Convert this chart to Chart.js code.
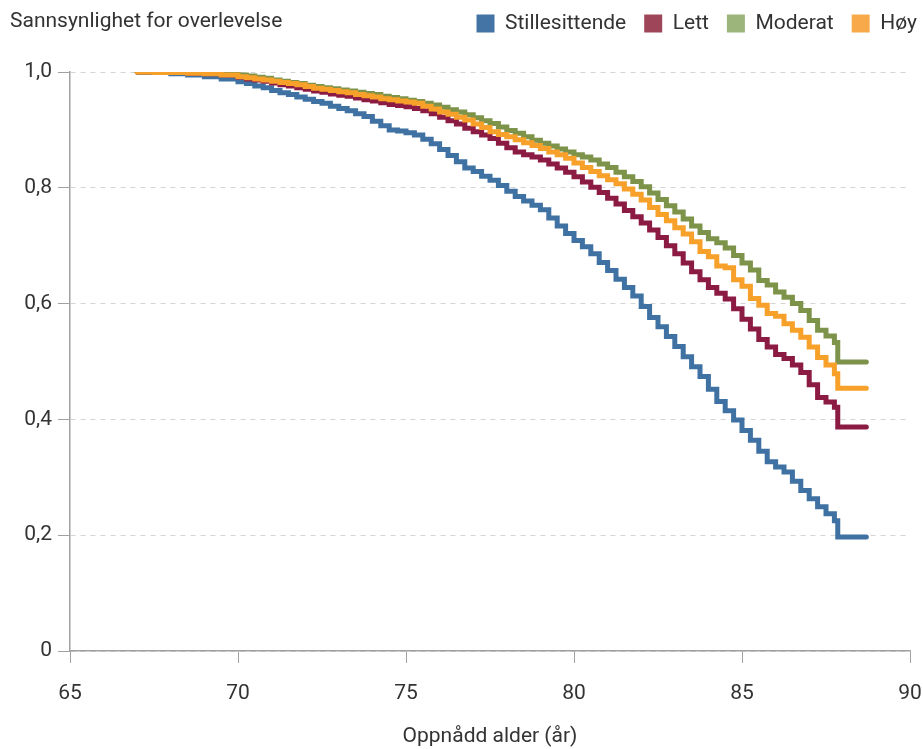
<!DOCTYPE html>
<html>
<head>
<meta charset="utf-8">
<script src="https://cdn.jsdelivr.net/npm/chart.js@4"></script>
<style>
html, body { margin: 0; padding: 0; background: #fff; }
</style>
</head>
<body>
<canvas id="chart" width="923" height="749"></canvas>
<script>
// alder (år) der kurvene endrer verdi
var ages = [67, 67.5, 68, 68.5, 69, 69.5,
  70, 70.25, 70.5, 70.75, 71, 71.25, 71.5, 71.75, 72, 72.25, 72.5, 72.75,
  73, 73.25, 73.5, 73.75, 74, 74.25, 74.5, 74.75, 75, 75.25, 75.5, 75.75,
  76, 76.25, 76.5, 76.75, 77, 77.25, 77.5, 77.75, 78, 78.25, 78.5, 78.75,
  79, 79.25, 79.5, 79.75, 80, 80.25, 80.5, 80.75, 81, 81.25, 81.5, 81.75,
  82, 82.25, 82.5, 82.75, 83, 83.25, 83.5, 83.75, 84, 84.25, 84.5, 84.75,
  85, 85.25, 85.5, 85.75, 86, 86.25, 86.5, 86.75, 87, 87.25, 87.5, 87.75,
  87.85, 88.7];

var stillesittende = [1.0, 0.999, 0.997, 0.995, 0.992, 0.988,
  0.983, 0.980, 0.976, 0.973, 0.968, 0.964, 0.961, 0.957, 0.953, 0.949, 0.946, 0.941,
  0.937, 0.933, 0.928, 0.923, 0.915, 0.907, 0.900, 0.898, 0.895, 0.891, 0.884, 0.876,
  0.866, 0.856, 0.845, 0.834, 0.828, 0.820, 0.813, 0.804, 0.794, 0.785, 0.777, 0.770,
  0.762, 0.748, 0.734, 0.721, 0.709, 0.698, 0.686, 0.671, 0.657, 0.642, 0.628, 0.613,
  0.595, 0.576, 0.560, 0.543, 0.526, 0.508, 0.491, 0.474, 0.452, 0.431, 0.415, 0.399,
  0.381, 0.364, 0.345, 0.327, 0.318, 0.309, 0.293, 0.277, 0.263, 0.249, 0.237, 0.225,
  0.197, 0.197];
var lett = [1.0, 0.999, 0.999, 0.998, 0.997, 0.995,
  0.991, 0.988, 0.986, 0.984, 0.981, 0.978, 0.976, 0.973, 0.970, 0.967, 0.965, 0.962,
  0.960, 0.958, 0.955, 0.952, 0.950, 0.947, 0.944, 0.942, 0.940, 0.937, 0.933, 0.928,
  0.922, 0.916, 0.910, 0.903, 0.897, 0.891, 0.885, 0.877, 0.869, 0.862, 0.857, 0.853,
  0.848, 0.841, 0.834, 0.827, 0.819, 0.810, 0.801, 0.792, 0.782, 0.772, 0.761, 0.750,
  0.739, 0.727, 0.714, 0.700, 0.686, 0.670, 0.655, 0.641, 0.628, 0.618, 0.608, 0.591,
  0.573, 0.556, 0.538, 0.525, 0.512, 0.505, 0.494, 0.481, 0.460, 0.438, 0.430, 0.421,
  0.387, 0.387];
var moderat = [1.0, 1.0, 0.999, 0.999, 0.998, 0.997,
  0.995, 0.993, 0.991, 0.989, 0.986, 0.984, 0.982, 0.980, 0.977, 0.975, 0.973, 0.971,
  0.969, 0.967, 0.965, 0.963, 0.961, 0.958, 0.956, 0.954, 0.951, 0.949, 0.946, 0.943,
  0.939, 0.935, 0.931, 0.926, 0.921, 0.916, 0.911, 0.905, 0.899, 0.894, 0.888, 0.882,
  0.877, 0.872, 0.867, 0.862, 0.857, 0.853, 0.848, 0.841, 0.835, 0.827, 0.819, 0.811,
  0.802, 0.791, 0.780, 0.769, 0.758, 0.746, 0.734, 0.723, 0.712, 0.705, 0.696, 0.683,
  0.670, 0.658, 0.640, 0.632, 0.620, 0.611, 0.600, 0.588, 0.571, 0.554, 0.544, 0.533,
  0.499, 0.499];
var hoy = [1.0, 0.999, 0.999, 0.998, 0.997, 0.995,
  0.992, 0.990, 0.988, 0.986, 0.984, 0.982, 0.980, 0.978, 0.975, 0.972, 0.970, 0.968,
  0.966, 0.964, 0.961, 0.959, 0.957, 0.954, 0.952, 0.950, 0.948, 0.946, 0.941, 0.936,
  0.931, 0.927, 0.922, 0.917, 0.910, 0.904, 0.897, 0.892, 0.888, 0.883, 0.878, 0.873,
  0.868, 0.862, 0.857, 0.851, 0.843, 0.835, 0.828, 0.821, 0.814, 0.807, 0.798, 0.789,
  0.779, 0.766, 0.754, 0.743, 0.731, 0.720, 0.707, 0.690, 0.681, 0.665, 0.662, 0.641,
  0.630, 0.609, 0.597, 0.583, 0.578, 0.565, 0.554, 0.542, 0.525, 0.507, 0.494, 0.479,
  0.454, 0.454];

var xTicks = [65, 70, 75, 80, 85, 90];

var fontFamily = "Roboto, 'DejaVu Sans', sans-serif";
var fontSize = 21;
var textColor = '#333333';
var axisColor = '#a0a0a0';

function toPoints(values) {
  return values.map(function (v, i) {
    return { x: ages[i], y: v };
  });
}

function makeDataset(label, values, lineColor, boxColor, order) {
  return {
    label: label,
    data: toPoints(values),
    borderColor: lineColor,
    backgroundColor: boxColor,
    borderWidth: 5,
    borderCapStyle: 'round',
    borderJoinStyle: 'miter',
    stepped: true,
    pointRadius: 0,
    fill: false,
    order: order
  };
}

// tittel oppe til venstre + flytt legenden opp på samme linje
var titlePlugin = {
  id: 'topTitle',
  afterLayout: function (chart) {
    var lg = chart.legend;
    lg.top -= 28;
    lg.bottom -= 28;
    lg.left += 12;
    lg.right += 12;
  },
  afterDraw: function (chart) {
    var ctx = chart.ctx;
    ctx.save();
    ctx.font = fontSize + 'px ' + fontFamily;
    ctx.fillStyle = textColor;
    ctx.textBaseline = 'middle';
    ctx.textAlign = 'left';
    ctx.fillText('Sannsynlighet for overlevelse', 10, 22);
    ctx.restore();
  }
};

var chartCtx = document.getElementById('chart').getContext('2d');

var chart = new Chart(chartCtx, {
  type: 'line',
  data: {
    datasets: [
      makeDataset('Stillesittende', stillesittende, '#3f72a3', '#4374a5', 3),
      makeDataset('Lett', lett, '#8c1b44', '#9e4559', 2),
      makeDataset('Moderat', moderat, '#7d934a', '#9bb57a', 1),
      makeDataset('Høy', hoy, '#f7a02a', '#f8a94a', 0)
    ]
  },
  options: {
    responsive: false,
    animation: false,
    layout: {
      padding: { top: 23, left: 0, right: 0, bottom: 0 }
    },
    plugins: {
      tooltip: { enabled: false },
      legend: {
        position: 'top',
        align: 'end',
        labels: {
          boxWidth: 18,
          boxHeight: 18,
          padding: 18,
          color: textColor,
          font: { family: fontFamily, size: fontSize },
          generateLabels: function (chart) {
            return chart.data.datasets.map(function (ds, i) {
              return {
                text: ds.label,
                fillStyle: ds.backgroundColor,
                strokeStyle: ds.backgroundColor,
                lineWidth: 0,
                fontColor: textColor,
                datasetIndex: i
              };
            });
          }
        }
      }
    },
    scales: {
      x: {
        type: 'linear',
        min: 65,
        max: 90,
        afterBuildTicks: function (scale) {
          scale.ticks = xTicks.map(function (v) { return { value: v }; });
        },
        afterFit: function (scale) {
          scale.height = 98;
          scale.paddingRight = 13;
          scale.paddingLeft = 0;
        },
        ticks: {
          color: textColor,
          padding: 18,
          font: { family: fontFamily, size: fontSize }
        },
        grid: {
          drawOnChartArea: false,
          drawTicks: true,
          tickLength: 12,
          tickColor: axisColor
        },
        border: { color: axisColor, width: 1.5 },
        title: {
          display: true,
          text: 'Oppnådd alder (år)',
          color: textColor,
          font: { family: fontFamily, size: fontSize },
          padding: { top: 0, bottom: 0 }
        }
      },
      y: {
        min: 0,
        max: 1,
        afterFit: function (scale) {
          scale.width = 70;
        },
        ticks: {
          stepSize: 0.2,
          color: textColor,
          padding: 6,
          font: { family: fontFamily, size: fontSize },
          callback: function (v) {
            return v === 0 ? '0' : v.toFixed(1).replace('.', ',');
          }
        },
        grid: {
          color: '#d4d4d4',
          lineWidth: 1,
          tickLength: 12,
          tickColor: axisColor
        },
        border: { color: axisColor, width: 1.5, dash: [5, 5] }
      }
    }
  },
  plugins: [titlePlugin]
});
</script>
</body>
</html>
